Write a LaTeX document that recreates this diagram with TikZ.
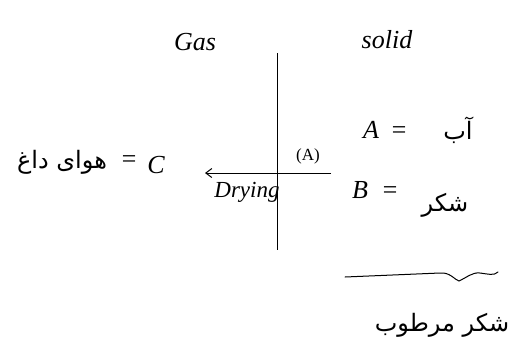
\documentclass[tikz,border=0pt]{standalone}
\usepackage{fontspec}
\usetikzlibrary{arrows.meta}
\setmainfont{Liberation Serif}
\newfontfamily\arabicfont[Script=Arabic]{DejaVu Sans}
\TeXXeTstate=1
\begin{document}
\begin{tikzpicture}[x=1pt,y=-1pt,
  hand/.style={font=\itshape\fontsize{26}{28}\selectfont, inner sep=0pt},
  small/.style={font=\fontsize{17}{19}\selectfont, inner sep=0pt},
  fa/.style={font=\arabicfont\fontsize{24}{28}\selectfont, inner sep=0pt},
  ln/.style={line width=1pt, black}]
\useasboundingbox (0,0) rectangle (525,360);
% titles
\node[hand] (gas) at (195,42) {Gas};
\node[hand] (solid) at (387,40) {solid};
% axes
\coordinate (vt) at (277,53);
\coordinate (vb) at (277,250);
\coordinate (hr) at (331,173);
\coordinate (hl) at (205,173);
\draw[ln] (vt) -- (vb);
\draw[ln,-{Straight Barb[length=6pt,width=9pt]}] (hr) -- (hl);
\node[small] (A1) at (308,156) {(A)};
\node[hand,font=\fontsize{23}{25}\selectfont\itshape] (dry) at (247,192) {Drying};
% left
\node[hand] (C) at (156,165) {C};
\node[hand] (eqc) at (129,162) {=};
\node[fa] (hot) at (62,162) {\beginR هوای داغ\endR};
% right
\node[hand] (A) at (371,130) {A};
\node[hand] (eqa) at (399,133) {=};
\node[fa] (water) at (458,130) {\beginR آب\endR};
\node[hand] (B) at (360,190) {B};
\node[hand] (eqb) at (390,193) {=};
\node[fa] (sugar) at (445,205) {\beginR شکر\endR};
% brace
\coordinate (b1) at (345,277);
\coordinate (b2) at (498,272);
\draw[ln,line cap=round] (b1) -- (440,273) .. controls (450,272) and (455,280) .. (459,281)
  .. controls (466,278) and (472,272) .. (480,273) .. controls (488,274) and (494,276) .. (b2);
\node[fa] (wet) at (442,325) {\beginR شکر مرطوب\endR};
\end{tikzpicture}
\end{document}
